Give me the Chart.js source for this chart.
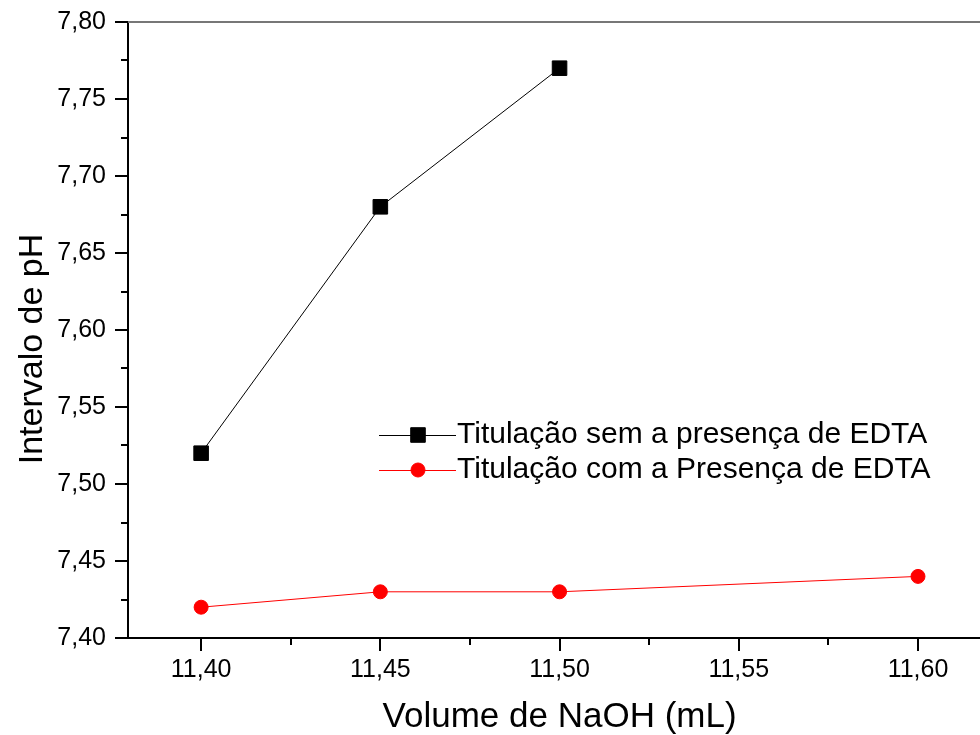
<!DOCTYPE html>
<html>
<head>
<meta charset="utf-8">
<script src="https://cdn.jsdelivr.net/npm/chart.js@4/dist/chart.umd.min.js"></script>
<style>
html,body{margin:0;padding:0;background:#fff;overflow:hidden}
canvas{display:block}
</style>
</head>
<body>
<canvas id="c" width="980" height="735"></canvas>
<script>
// ---- data ----
const xTitle = 'Volume de NaOH (mL)';
const yTitle = 'Intervalo de pH';
const seriesNames = ['Titulação sem a presença de EDTA', 'Titulação com a Presença de EDTA'];
const volSemEDTA = [11.40, 11.45, 11.50];
const phSemEDTA = [7.52, 7.68, 7.77];
const volComEDTA = [11.40, 11.45, 11.50, 11.60];
const phComEDTA = [7.42, 7.43, 7.43, 7.44];
const xTicks = [11.40, 11.45, 11.50, 11.55, 11.60];
const xMinorTicks = [11.425, 11.475, 11.525, 11.575];
const yTicks = [7.40, 7.45, 7.50, 7.55, 7.60, 7.65, 7.70, 7.75, 7.80];
const yMinorTicks = [7.425, 7.475, 7.525, 7.575, 7.625, 7.675, 7.725, 7.775];
// visible axis window (the plot frame continues past the right edge of the image)
const xRange = [11.3796, 11.6173];
const yRange = [7.40, 7.80];
const xAxisCentre = 11.50;

const FONT = "'Liberation Sans', Arial, Helvetica, sans-serif";
Chart.defaults.font.family = FONT;
Chart.defaults.color = '#000';

const toPts = (xs, ys) => xs.map((x, i) => ({x: x, y: ys[i]}));
const fmt = v => Number(v).toFixed(2).replace('.', ',');

const PLOT_TOP = 22;

const decorPlugin = {
  id: 'decor',
  afterLayout(chart) {
    // let the plot frame run to the right edge of the canvas and start at PLOT_TOP
    const xs = chart.scales.x, ys = chart.scales.y, a = chart.chartArea;
    const right = chart.width;
    a.right = right; a.width = right - a.left;
    xs.right = right; xs.width = right - xs.left; xs.paddingRight = 0; xs.paddingLeft = 0;
    xs.configure();
    a.top = PLOT_TOP; a.height = a.bottom - PLOT_TOP;
    ys.top = PLOT_TOP; ys.height = ys.bottom - PLOT_TOP; ys.paddingTop = 0; ys.paddingBottom = 0;
    ys.configure();
  },
  beforeDatasetsDraw(chart) {
    const ctx = chart.ctx, a = chart.chartArea;
    ctx.save();
    ctx.strokeStyle = '#777';
    ctx.lineWidth = 2;
    ctx.beginPath();
    ctx.moveTo(a.left, a.top);
    ctx.lineTo(a.right, a.top);
    ctx.stroke();
    ctx.restore();
  },
  afterDraw(chart) {
    const ctx = chart.ctx, a = chart.chartArea;
    const xs = chart.scales.x, ys = chart.scales.y;
    ctx.save();
    // minor ticks
    ctx.strokeStyle = '#000';
    ctx.lineWidth = 2;
    ctx.beginPath();
    xMinorTicks.forEach(v => {
      const px = Math.round(xs.getPixelForValue(v));
      ctx.moveTo(px, a.bottom);
      ctx.lineTo(px, a.bottom + 7);
    });
    yMinorTicks.forEach(v => {
      const py = Math.round(ys.getPixelForValue(v));
      ctx.moveTo(a.left, py);
      ctx.lineTo(a.left - 7, py);
    });
    ctx.stroke();

    // axis titles
    ctx.fillStyle = '#000';
    ctx.textAlign = 'center';
    ctx.textBaseline = 'alphabetic';
    ctx.font = '35px ' + FONT;
    ctx.fillText(xTitle, xs.getPixelForValue(xAxisCentre), 727);
    ctx.save();
    ctx.font = '34px ' + FONT;
    ctx.translate(42, 349);
    ctx.rotate(-Math.PI / 2);
    ctx.fillText(yTitle, 0, 0);
    ctx.restore();

    // legend
    const rows = [435, 470];
    chart.data.datasets.forEach((ds, i) => {
      const y = rows[i];
      ctx.strokeStyle = ds.borderColor;
      ctx.lineWidth = 1;
      ctx.beginPath();
      ctx.moveTo(379, y + 0.5);
      ctx.lineTo(456, y + 0.5);
      ctx.stroke();
      ctx.fillStyle = ds.pointBackgroundColor;
      ctx.strokeStyle = ds.pointBorderColor;
      ctx.lineWidth = ds.pointBorderWidth;
      Chart.helpers.drawPoint(ctx, {pointStyle: ds.pointStyle, radius: ds.pointRadius, borderWidth: ds.pointBorderWidth, rotation: 0}, 418, y);
      ctx.fillStyle = '#000';
      ctx.font = '30px ' + FONT;
      ctx.textAlign = 'left';
      ctx.textBaseline = 'alphabetic';
      ctx.fillText(ds.label, 457, y + 8);
    });
    ctx.restore();
  }
};

new Chart(document.getElementById('c'), {
  type: 'line',
  data: {
    datasets: [
      {
        label: seriesNames[0],
        data: toPts(volSemEDTA, phSemEDTA),
        borderColor: '#000000',
        borderWidth: 1,
        pointStyle: 'rect',
        pointRadius: 10.3,
        pointBackgroundColor: '#000000',
        pointBorderColor: '#000000',
        pointBorderWidth: 1,
        tension: 0,
        clip: false
      },
      {
        label: seriesNames[1],
        data: toPts(volComEDTA, phComEDTA),
        borderColor: '#ff0000',
        borderWidth: 1,
        pointStyle: 'circle',
        pointRadius: 7,
        pointBackgroundColor: '#ff0000',
        pointBorderColor: '#ff0000',
        pointBorderWidth: 1,
        tension: 0,
        clip: false
      }
    ]
  },
  options: {
    responsive: false,
    animation: false,
    devicePixelRatio: 1,
    layout: {padding: {top: PLOT_TOP, right: 0, bottom: 0, left: 0}},
    plugins: {legend: {display: false}, tooltip: {enabled: false}},
    scales: {
      x: {
        type: 'linear',
        min: xRange[0],
        max: xRange[1],
        afterBuildTicks: s => { s.ticks = xTicks.map(v => ({value: v})); },
        afterFit: s => { s.height = 97; },
        ticks: {
          callback: v => fmt(v),
          font: {size: 25, family: FONT},
          color: '#000',
          padding: 4,
          maxRotation: 0,
          autoSkip: false
        },
        grid: {drawOnChartArea: false, drawTicks: true, tickLength: 13, color: '#000', lineWidth: 2},
        border: {display: true, color: '#000', width: 2}
      },
      y: {
        type: 'linear',
        min: yRange[0],
        max: yRange[1],
        afterBuildTicks: s => { s.ticks = yTicks.map(v => ({value: v})); },
        afterFit: s => { s.width = 128; },
        ticks: {
          callback: v => fmt(v),
          font: {size: 25, family: FONT},
          color: '#000',
          padding: 9,
          autoSkip: false
        },
        grid: {drawOnChartArea: false, drawTicks: true, tickLength: 13, color: '#000', lineWidth: 2},
        border: {display: true, color: '#000', width: 2}
      }
    }
  },
  plugins: [decorPlugin]
});
</script>
</body>
</html>
